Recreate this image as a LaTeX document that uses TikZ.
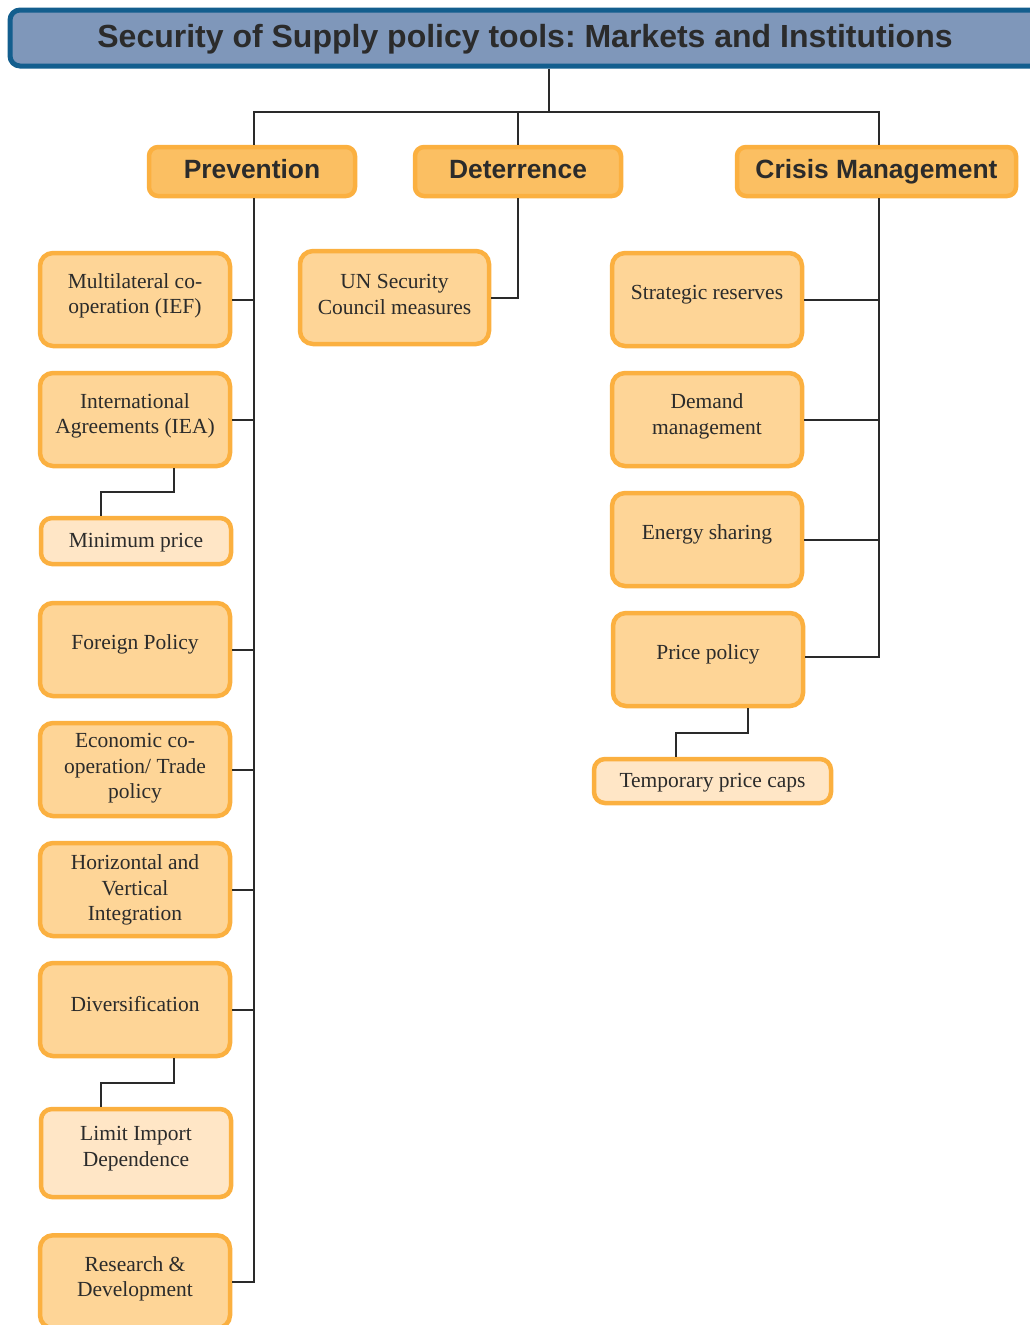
\documentclass[tikz,border=0pt]{standalone}
\usepackage{fontspec}
\setmainfont{Liberation Serif}
\newfontfamily\hdfont{Liberation Sans}
\frenchspacing
\definecolor{titleFill}{HTML}{7F97BA}
\definecolor{titleBorder}{HTML}{135E8E}
\definecolor{orangeBorder}{HTML}{FBB040}
\definecolor{headFill}{HTML}{FBBF62}
\definecolor{childFill}{HTML}{FED597}
\definecolor{subFill}{HTML}{FFE6C6}
\definecolor{connC}{HTML}{2A2A2A}
\definecolor{txtC}{HTML}{2B2B2B}
\begin{document}
\begin{tikzpicture}[x=1pt,y=-1pt,
  titlebox/.style={draw=titleBorder,line width=5pt,fill=titleFill,rounded corners=10pt,minimum width=1078pt,minimum height=56pt,inner sep=0pt},
  titletxt/.style={font=\hdfont\bfseries\fontsize{32}{36}\selectfont,text=txtC,inner sep=0pt,anchor=base},
  headbox/.style={draw=orangeBorder,line width=4.5pt,fill=headFill,rounded corners=9pt,minimum height=49pt,inner sep=0pt},
  headtxt/.style={font=\hdfont\bfseries\fontsize{26.4}{30}\selectfont,text=txtC,inner sep=0pt,anchor=base},
  childbox/.style={draw=orangeBorder,line width=4.5pt,fill=childFill,rounded corners=13pt,minimum width=190pt,minimum height=93pt,inner sep=0pt},
  subbox/.style={draw=orangeBorder,line width=4.5pt,fill=subFill,rounded corners=11pt,minimum width=190pt,inner sep=0pt},
  txt/.style={font=\fontsize{21.5}{25.5}\selectfont,text=txtC,align=center,inner sep=0pt},
  conn/.style={draw=connC,line width=2pt}]
\useasboundingbox (0,0) rectangle (1030,1325);
\clip (0,0) rectangle (1030,1325);
% title
\node[titlebox] (title) at (549,38) {};
\node[titletxt] (title-t) at (525,47) {Security of Supply policy tools: Markets and Institutions};
% headers
\node[headbox,minimum width=206pt] (prev) at (252,171.5) {};
\node[headtxt] (prev-t) at ([yshift=-6.5pt]prev.center) {Prevention};
\node[headbox,minimum width=206pt] (det) at (518,171.5) {};
\node[headtxt] (det-t) at ([yshift=-6.5pt]det.center) {Deterrence};
\node[headbox,minimum width=279pt] (crisis) at (876.5,171.5) {};
\node[headtxt] (crisis-t) at ([yshift=-6.5pt]crisis.center) {Crisis Management};
% prevention children
\node[childbox] (mc) at (135,299.5) {};
\node[txt] (mc-t) at ([yshift=3.5pt]mc.center) {Multilateral co-\\operation (IEF)};
\node[childbox] (ia) at (135,419.5) {};
\node[txt] (ia-t) at ([yshift=3.5pt]ia.center) {International\\Agreements (IEA)};
\node[subbox,minimum height=46pt] (mp) at (136,541) {};
\node[txt] (mp-t) at ([yshift=-1.5pt]mp.center) {Minimum price};
\node[childbox] (fp) at (135,649.5) {};
\node[txt] (fp-t) at ([yshift=5pt]fp.center) {Foreign Policy};
\node[childbox] (ec) at (135,769.5) {};
\node[txt] (ec-t) at ([yshift=1pt]ec.center) {Economic co-\\operation/ Trade\\policy};
\node[childbox] (hv) at (135,889.5) {};
\node[txt] (hv-t) at ([yshift=-0.5pt]hv.center) {Horizontal and\\Vertical\\Integration};
\node[childbox] (dv) at (135,1009.5) {};
\node[txt] (dv-t) at ([yshift=5pt]dv.center) {Diversification};
\node[subbox,minimum height=88pt] (lid) at (136,1153) {};
\node[txt] (lid-t) at ([yshift=4.5pt]lid.center) {Limit Import\\Dependence};
\node[childbox] (rd) at (135,1281.75) {};
\node[txt] (rd-t) at ([yshift=3pt]rd.center) {Research \&\\Development};
% deterrence child
\node[childbox,minimum width=189pt] (un) at (394.5,297.5) {};
\node[txt] (un-t) at ([yshift=3pt]un.center) {UN Security\\Council measures};
% crisis children
\node[childbox] (sr) at (707,299.5) {};
\node[txt] (sr-t) at ([yshift=5pt]sr.center) {Strategic reserves};
\node[childbox] (dm) at (707,419.5) {};
\node[txt] (dm-t) at ([yshift=3pt]dm.center) {Demand\\management};
\node[childbox] (es) at (707,539.5) {};
\node[txt] (es-t) at ([yshift=5pt]es.center) {Energy sharing};
\node[childbox] (pp) at (708,659.5) {};
\node[txt] (pp-t) at ([yshift=5pt]pp.center) {Price policy};
\node[subbox,minimum width=237pt,minimum height=44pt] (tpc) at (712.5,781) {};
\node[txt] (tpc-t) at ([yshift=-1.5pt]tpc.center) {Temporary price caps};
% connectors
\coordinate (hub) at (549,112);
\coordinate (pspine) at ([xshift=2pt]prev.south);
\coordinate (cspine) at ([xshift=2.5pt]crisis.south);
\draw[conn] (title.south) -- (hub);
\draw[conn] ([xshift=2pt]prev.north) |- (hub) -| ([xshift=2.5pt]crisis.north);
\draw[conn] (det.north) -- (det.north |- hub);
% prevention spine
\draw[conn] (pspine) |- (rd.east);
\foreach \n in {mc,ia,fp,ec,hv,dv}{
  \draw[conn] (\n.east) -- (\n.east -| pspine);
}
\draw[conn] ([xshift=39pt]ia.south) -- ++(0,24) -| ([xshift=-35pt]mp.north);
\draw[conn] ([xshift=39pt]dv.south) -- ++(0,24.5) -| ([xshift=-35pt]lid.north);
% deterrence
\draw[conn] (det.south) |- (un.east);
% crisis spine
\draw[conn] (cspine) |- ([yshift=2.5pt]pp.east);
\foreach \n in {sr,dm,es}{
  \draw[conn] (\n.east) -- (\n.east -| cspine);
}
\draw[conn] ([xshift=40pt]pp.south) -- ++(0,25) -| ([xshift=-36.5pt]tpc.north);
\end{tikzpicture}
\end{document}
